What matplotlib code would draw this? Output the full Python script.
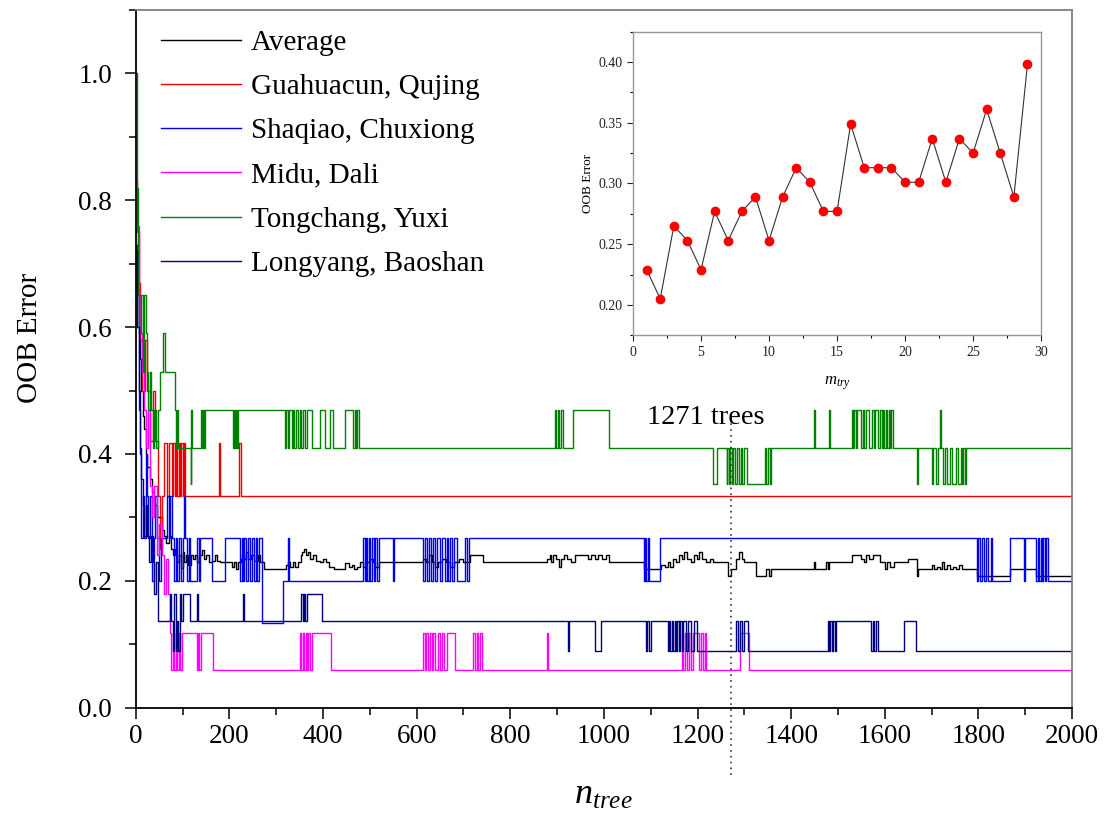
import matplotlib
matplotlib.use("Agg")
import matplotlib.pyplot as plt
from matplotlib.ticker import MultipleLocator

plt.rcParams["font.family"] = ["Liberation Serif", "DejaVu Serif"]
plt.rcParams["mathtext.fontset"] = "custom"
plt.rcParams["mathtext.it"] = "Liberation Serif:italic"
plt.rcParams["mathtext.rm"] = "Liberation Serif"

# OOB error vs number of trees, as (n_tree, value) change points of each step curve
avg_steps = [
    (0, 0.73), (3, 0.66), (6, 0.6), (9, 0.55), (12, 0.5), (15, 0.46), (18, 0.44), (21, 0.4),
    (25, 0.38), (30, 0.36), (35, 0.34), (40, 0.32), (45, 0.3), (55, 0.28), (60, 0.27),
    (65, 0.26), (70, 0.27), (75, 0.25), (80, 0.24), (84, 0.25), (88, 0.23), (92, 0.24),
    (96, 0.22), (100, 0.245), (104, 0.23), (108, 0.24), (112, 0.225), (117, 0.24),
    (122, 0.235), (127, 0.24), (131, 0.229), (136, 0.24), (141, 0.248), (145, 0.235),
    (150, 0.24), (156, 0.229), (162, 0.232), (170, 0.24), (174, 0.232), (181, 0.229),
    (206, 0.222), (210, 0.229), (214, 0.218), (218, 0.229), (224, 0.235), (228, 0.24),
    (232, 0.235), (236, 0.245), (240, 0.235), (246, 0.24), (252, 0.232), (262, 0.24),
    (266, 0.229), (273, 0.218), (320, 0.225), (325, 0.229), (330, 0.222), (336, 0.229),
    (340, 0.222), (346, 0.229), (352, 0.24), (356, 0.245), (360, 0.25), (364, 0.24),
    (368, 0.245), (372, 0.235), (378, 0.24), (384, 0.232), (394, 0.229), (400, 0.235),
    (406, 0.229), (412, 0.222), (423, 0.218), (448, 0.228), (456, 0.222), (462, 0.225),
    (467, 0.218), (473, 0.222), (480, 0.229), (486, 0.222), (492, 0.229), (500, 0.235),
    (506, 0.229), (512, 0.222), (520, 0.229), (614, 0.235), (620, 0.229), (626, 0.24),
    (632, 0.229), (640, 0.222), (646, 0.229), (655, 0.235), (662, 0.229), (672, 0.222),
    (680, 0.229), (690, 0.235), (700, 0.229), (714, 0.241), (742, 0.229), (878, 0.235),
    (884, 0.241), (888, 0.229), (892, 0.241), (898, 0.235), (904, 0.222), (908, 0.235),
    (915, 0.241), (922, 0.235), (930, 0.229), (938, 0.241), (965, 0.235), (972, 0.241),
    (980, 0.235), (988, 0.241), (996, 0.235), (1004, 0.241), (1011, 0.229), (1085, 0.218),
    (1122, 0.225), (1130, 0.222), (1136, 0.229), (1142, 0.222), (1147, 0.235), (1155, 0.229),
    (1160, 0.241), (1166, 0.235), (1172, 0.245), (1178, 0.235), (1186, 0.229), (1192, 0.241),
    (1198, 0.235), (1204, 0.245), (1210, 0.235), (1218, 0.229), (1226, 0.235), (1232, 0.229),
    (1265, 0.207), (1272, 0.218), (1282, 0.235), (1288, 0.245), (1294, 0.235), (1300, 0.229),
    (1325, 0.207), (1347, 0.218), (1352, 0.207), (1358, 0.218), (1449, 0.229), (1451, 0.218),
    (1474, 0.229), (1478, 0.218), (1481, 0.229), (1529, 0.241), (1550, 0.235), (1556, 0.229),
    (1560, 0.241), (1566, 0.235), (1575, 0.241), (1590, 0.229), (1600, 0.218), (1604, 0.229),
    (1612, 0.222), (1620, 0.229), (1650, 0.235), (1668, 0.207), (1670, 0.218), (1700, 0.225),
    (1706, 0.218), (1712, 0.222), (1718, 0.218), (1722, 0.229), (1726, 0.218), (1732, 0.225),
    (1740, 0.218), (1746, 0.222), (1752, 0.218), (1758, 0.225), (1764, 0.218), (1796, 0.207),
    (1867, 0.218), (1924, 0.207),
]
red_steps = [
    (0, 0.83), (3, 0.75), (6, 0.67), (10, 0.58), (14, 0.5), (20, 0.58), (25, 0.5), (30, 0.42),
    (36, 0.5), (42, 0.42), (48, 0.333), (52, 0.25), (56, 0.333), (60, 0.417), (66, 0.333),
    (72, 0.417), (78, 0.333), (80, 0.417), (83, 0.333), (86, 0.417), (89, 0.333), (92, 0.417),
    (95, 0.333), (97, 0.417), (100, 0.333), (103, 0.417), (106, 0.333), (177, 0.417),
    (181, 0.333), (220, 0.417), (225, 0.333),
]
blue_steps = [
    (0, 0.73), (3, 0.6), (6, 0.47), (9, 0.4), (12, 0.267), (15, 0.333), (18, 0.267), (21, 0.4),
    (24, 0.333), (27, 0.267), (30, 0.333), (34, 0.2), (38, 0.267), (42, 0.333), (46, 0.267),
    (50, 0.2), (54, 0.267), (66, 0.333), (70, 0.267), (74, 0.333), (78, 0.267), (82, 0.2),
    (85, 0.267), (88, 0.2), (92, 0.267), (96, 0.2), (100, 0.267), (102, 0.333), (106, 0.267),
    (110, 0.2), (113, 0.267), (116, 0.2), (130, 0.267), (135, 0.2), (138, 0.267), (162, 0.2),
    (191, 0.267), (223, 0.2), (226, 0.267), (229, 0.2), (232, 0.267), (236, 0.2), (240, 0.267),
    (244, 0.2), (248, 0.267), (252, 0.2), (256, 0.267), (260, 0.2), (264, 0.267), (269, 0.133),
    (315, 0.2), (325, 0.267), (327, 0.2), (486, 0.267), (489, 0.2), (492, 0.267), (495, 0.2),
    (498, 0.267), (501, 0.2), (504, 0.267), (508, 0.2), (512, 0.267), (516, 0.2), (520, 0.267),
    (550, 0.2), (552, 0.267), (614, 0.2), (618, 0.267), (622, 0.2), (626, 0.267), (630, 0.2),
    (634, 0.267), (640, 0.2), (644, 0.267), (650, 0.2), (654, 0.267), (660, 0.2), (664, 0.267),
    (668, 0.2), (672, 0.267), (676, 0.2), (680, 0.267), (686, 0.2), (704, 0.267), (707, 0.2),
    (711, 0.267), (1085, 0.2), (1088, 0.267), (1091, 0.2), (1094, 0.267), (1097, 0.2),
    (1120, 0.267), (1796, 0.2), (1800, 0.267), (1804, 0.2), (1808, 0.267), (1812, 0.2),
    (1816, 0.267), (1820, 0.2), (1826, 0.267), (1830, 0.2), (1867, 0.267), (1898, 0.2),
    (1900, 0.267), (1924, 0.2), (1927, 0.267), (1930, 0.2), (1933, 0.267), (1936, 0.2),
    (1939, 0.267), (1942, 0.2), (1945, 0.267), (1948, 0.2),
]
magenta_steps = [
    (0, 0.71), (4, 0.76), (7, 0.65), (10, 0.59), (14, 0.53), (18, 0.47), (22, 0.41), (26, 0.47),
    (30, 0.35), (35, 0.3), (40, 0.35), (45, 0.24), (50, 0.29), (55, 0.24), (60, 0.18),
    (64, 0.235), (68, 0.18), (73, 0.118), (76, 0.059), (79, 0.118), (82, 0.059), (85, 0.118),
    (88, 0.059), (92, 0.118), (95, 0.059), (98, 0.118), (130, 0.059), (133, 0.118), (136, 0.059),
    (139, 0.118), (166, 0.059), (351, 0.118), (354, 0.059), (357, 0.118), (360, 0.059),
    (363, 0.118), (366, 0.059), (369, 0.118), (373, 0.059), (377, 0.118), (418, 0.059),
    (614, 0.118), (617, 0.059), (620, 0.118), (624, 0.059), (628, 0.118), (632, 0.059),
    (636, 0.118), (640, 0.059), (645, 0.118), (650, 0.059), (654, 0.118), (658, 0.059),
    (664, 0.118), (682, 0.059), (721, 0.118), (724, 0.059), (728, 0.118), (732, 0.059),
    (736, 0.118), (739, 0.059), (878, 0.118), (880, 0.059), (1166, 0.118), (1169, 0.059),
    (1173, 0.118), (1177, 0.059), (1181, 0.118), (1185, 0.059), (1190, 0.118), (1204, 0.059),
    (1207, 0.118), (1211, 0.059), (1215, 0.118), (1219, 0.059), (1290, 0.118), (1311, 0.059),
]
green_steps = [
    (0, 1.0), (2, 0.82), (4, 0.65), (8, 0.59), (11, 0.65), (15, 0.53), (18, 0.65), (21, 0.59),
    (24, 0.53), (27, 0.47), (30, 0.53), (33, 0.47), (36, 0.41), (40, 0.47), (44, 0.41),
    (48, 0.47), (52, 0.53), (59, 0.59), (62, 0.53), (84, 0.47), (86, 0.41), (88, 0.47),
    (91, 0.41), (118, 0.353), (119, 0.47), (121, 0.41), (139, 0.47), (141, 0.41), (143, 0.47),
    (146, 0.41), (148, 0.47), (208, 0.41), (210, 0.47), (212, 0.41), (214, 0.47), (216, 0.41),
    (219, 0.47), (319, 0.41), (322, 0.47), (325, 0.41), (328, 0.47), (333, 0.41), (336, 0.47),
    (339, 0.41), (342, 0.47), (346, 0.41), (350, 0.47), (354, 0.41), (358, 0.47), (362, 0.41),
    (366, 0.47), (376, 0.41), (394, 0.47), (404, 0.41), (415, 0.47), (422, 0.41), (447, 0.47),
    (465, 0.41), (468, 0.47), (470, 0.41), (472, 0.47), (476, 0.41), (895, 0.47), (898, 0.41),
    (901, 0.47), (905, 0.41), (908, 0.47), (913, 0.41), (935, 0.47), (1011, 0.41),
    (1234, 0.353), (1241, 0.41), (1262, 0.353), (1264, 0.41), (1267, 0.353), (1270, 0.41),
    (1273, 0.353), (1276, 0.41), (1280, 0.353), (1284, 0.41), (1288, 0.353), (1292, 0.41),
    (1296, 0.353), (1300, 0.41), (1305, 0.353), (1344, 0.41), (1347, 0.353), (1351, 0.41),
    (1354, 0.353), (1358, 0.41), (1449, 0.47), (1451, 0.41), (1481, 0.47), (1483, 0.41),
    (1529, 0.47), (1532, 0.41), (1535, 0.47), (1538, 0.41), (1541, 0.47), (1550, 0.41),
    (1553, 0.47), (1556, 0.41), (1560, 0.47), (1566, 0.41), (1572, 0.47), (1576, 0.41),
    (1580, 0.47), (1586, 0.41), (1590, 0.47), (1593, 0.41), (1596, 0.47), (1599, 0.41),
    (1602, 0.47), (1605, 0.41), (1608, 0.47), (1611, 0.41), (1614, 0.47), (1617, 0.41),
    (1668, 0.353), (1670, 0.41), (1700, 0.353), (1703, 0.41), (1710, 0.353), (1713, 0.41),
    (1718, 0.47), (1720, 0.41), (1724, 0.353), (1728, 0.41), (1733, 0.353), (1740, 0.41),
    (1744, 0.353), (1752, 0.41), (1756, 0.353), (1762, 0.41), (1765, 0.353), (1768, 0.41),
    (1771, 0.353), (1774, 0.41),
]
navy_steps = [
    (0, 0.72), (3, 0.6), (6, 0.5), (9, 0.41), (12, 0.36), (15, 0.32), (18, 0.27), (21, 0.32),
    (24, 0.27), (28, 0.23), (32, 0.27), (36, 0.23), (40, 0.18), (44, 0.23), (48, 0.136),
    (73, 0.18), (76, 0.136), (79, 0.09), (82, 0.18), (85, 0.09), (88, 0.136), (91, 0.09),
    (94, 0.18), (97, 0.136), (100, 0.18), (116, 0.136), (130, 0.18), (132, 0.136), (230, 0.18),
    (232, 0.136), (354, 0.18), (357, 0.136), (360, 0.18), (362, 0.136), (365, 0.18),
    (397, 0.136), (924, 0.09), (926, 0.136), (980, 0.09), (994, 0.136), (1090, 0.09),
    (1093, 0.136), (1097, 0.09), (1101, 0.136), (1136, 0.09), (1139, 0.136), (1142, 0.09),
    (1145, 0.136), (1148, 0.09), (1151, 0.136), (1154, 0.09), (1157, 0.136), (1160, 0.09),
    (1163, 0.136), (1166, 0.09), (1170, 0.136), (1175, 0.09), (1180, 0.136), (1186, 0.09),
    (1192, 0.136), (1198, 0.09), (1282, 0.136), (1287, 0.09), (1291, 0.136), (1296, 0.09),
    (1300, 0.136), (1307, 0.09), (1478, 0.136), (1481, 0.09), (1484, 0.136), (1487, 0.09),
    (1490, 0.136), (1493, 0.09), (1496, 0.136), (1571, 0.09), (1574, 0.136), (1578, 0.09),
    (1582, 0.136), (1586, 0.09), (1642, 0.136), (1667, 0.09),
]

series_labels = ["Average", "Guahuacun, Qujing", "Shaqiao, Chuxiong",
                 "Midu, Dali", "Tongchang, Yuxi", "Longyang, Baoshan"]
series_colors = ["black", "#ee0000", "#0000ee", "#ff00ff", "#008000", "#000080"]
series_steps = [avg_steps, red_steps, blue_steps, magenta_steps, green_steps, navy_steps]

chosen_ntree = 1271

# OOB error vs mtry (inset)
mtry = list(range(1, 30))
mtry_error = [0.229, 0.205, 0.265, 0.253, 0.229, 0.277, 0.253, 0.277, 0.289, 0.253,
              0.289, 0.313, 0.301, 0.277, 0.277, 0.349, 0.313, 0.313, 0.313, 0.301,
              0.301, 0.337, 0.301, 0.337, 0.325, 0.361, 0.325, 0.289, 0.398]

fig = plt.figure(figsize=(11.1, 8.19), dpi=100)
ax = fig.add_axes([0.1223, 0.1359, 0.8435, 0.8519])

for steps, color, label in zip(series_steps, series_colors, series_labels):
    xs = [p[0] for p in steps] + [2000]
    ys = [p[1] for p in steps] + [steps[-1][1]]
    ax.plot(xs, ys, drawstyle="steps-post", color=color, lw=1.0, label=label)

ax.plot([chosen_ntree, chosen_ntree], [-0.106, 0.45], ls=(0, (1, 2.5)), color="#333333",
        lw=1.2, clip_on=False)
ax.text(1218, 0.447, f"{chosen_ntree} trees", fontsize=20.5, ha="center", va="baseline")

ax.set_xlim(0, 2000)
ax.set_ylim(0, 1.1)
ax.xaxis.set_major_locator(MultipleLocator(200))
ax.xaxis.set_minor_locator(MultipleLocator(100))
ax.yaxis.set_major_locator(MultipleLocator(0.2))
ax.yaxis.set_minor_locator(MultipleLocator(0.1))
ax.yaxis.set_major_formatter(lambda v, p: f"{v:.1f}")
ax.tick_params(which="major", direction="out", length=8, width=1.1, labelsize=19.5)
ax.tick_params(which="minor", direction="out", length=5, width=1.1)
ax.tick_params(axis="y", which="major", pad=9)
for side in ("top", "right"):
    ax.spines[side].set_color("#808080")
    ax.spines[side].set_linewidth(1.3)
for side in ("left", "bottom"):
    ax.spines[side].set_linewidth(1.3)

ax.set_xlabel("$n_{tree}$", fontsize=26, labelpad=22)
fig.text(0.027, 1 - 338 / 819, "OOB Error", rotation=90, fontsize=21,
         ha="center", va="center")

ax.legend(loc="upper left", bbox_to_anchor=(0.027, 0.972), frameon=False, fontsize=21,
          handlelength=2.75, handletextpad=0.33, labelspacing=0.61, borderpad=0,
          borderaxespad=0)

ins = fig.add_axes([0.5703, 0.5906, 0.3676, 0.3707])
ins.plot(mtry, mtry_error, color="#333333", lw=0.8, marker="o", markersize=6,
         markerfacecolor="#ff0000", markeredgecolor="#ff0000")
ins.set_xlim(0, 30)
ins.set_ylim(0.175, 0.425)
ins.xaxis.set_major_locator(MultipleLocator(5))
ins.xaxis.set_minor_locator(MultipleLocator(2.5))
ins.yaxis.set_major_locator(MultipleLocator(0.05))
ins.yaxis.set_minor_locator(MultipleLocator(0.025))
ins.yaxis.set_major_formatter(lambda v, p: f"{v:.2f}")
ins.tick_params(which="major", direction="out", length=4, width=0.8, labelsize=10,
                colors="#222222")
ins.tick_params(which="minor", direction="out", length=2.5, width=0.8)
for s in ins.spines.values():
    s.set_color("#999999")
    s.set_linewidth(1.0)
ins.set_ylabel("OOB Error", fontsize=9.5, labelpad=3)
ins.set_xlabel("$m_{try}$", fontsize=12, labelpad=11)

fig.savefig("out.png", dpi=100)
